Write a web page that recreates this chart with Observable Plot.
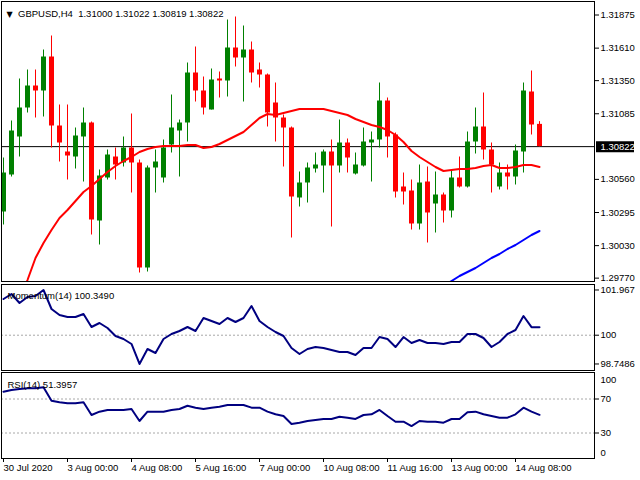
<!DOCTYPE html>
<html><head><meta charset="utf-8">
<script src="https://cdn.jsdelivr.net/npm/d3@7"></script>
<script src="https://cdn.jsdelivr.net/npm/@observablehq/plot@0.6"></script>
<style>
body{margin:0;background:#fff;}
#chart{position:relative;width:640px;height:480px;background:#fff;overflow:hidden;}
#chart svg{position:absolute;left:0;}
</style></head><body><div id="chart"></div>
<script>
// ---- data (GBPUSD H4) ----
const open = [1.30299,1.30595,1.30899,1.31131,1.31307,1.31267,1.31539,1.30987,1.30779,1.30739,
1.30899,1.31011,1.30227,1.30571,1.30739,1.30691,1.30811,1.30691,1.29851,1.30651,
1.30571,1.30835,1.30947,1.31011,1.31411,1.31267,1.31115,1.31363,1.31347,1.31611,
1.31531,1.31595,1.31435,1.31395,1.31171,1.31051,1.30971,1.30411,1.30531,1.30643,
1.30667,1.30779,1.30667,1.30851,1.30603,1.30667,1.30851,1.30875,1.31187,1.30915,
1.30499,1.30467,1.30203,1.30539,1.30363,1.30435,1.30307,1.30571,1.30499,1.30859,
1.30979,1.30795,1.30499,1.30611,1.30579,1.30779,1.31259,1.31000];
const high = [1.30731,1.31027,1.31363,1.31435,1.31435,1.31595,1.31707,1.31155,1.31155,1.30971,
1.31131,1.31019,1.30635,1.30795,1.30811,1.30899,1.31083,1.30715,1.30667,1.30795,
1.30875,1.31235,1.31035,1.31491,1.31619,1.31379,1.31443,1.31419,1.31835,1.31859,
1.31787,1.31659,1.31491,1.31403,1.31331,1.31075,1.30979,1.30619,1.30691,1.30771,
1.30795,1.30875,1.31035,1.30883,1.30771,1.30971,1.30939,1.31331,1.31211,1.30931,
1.30611,1.30555,1.30675,1.30659,1.30619,1.30451,1.30635,1.30739,1.30939,1.31131,
1.31251,1.30851,1.30691,1.30675,1.30835,1.31331,1.31427,1.31022];
const low = [1.30195,1.30579,1.30739,1.31091,1.31051,1.31059,1.30811,1.30699,1.30555,1.30643,
1.30539,1.30115,1.30035,1.30555,1.30555,1.30659,1.30451,1.29811,1.29819,1.30451,
1.30531,1.30771,1.30579,1.30859,1.31179,1.31075,1.31115,1.31211,1.31219,1.31459,
1.31179,1.31331,1.31291,1.30979,1.30859,1.30659,1.30091,1.30339,1.30371,1.30611,
1.30451,1.30179,1.30611,1.30611,1.30595,1.30659,1.30539,1.30811,1.30731,1.30411,
1.30355,1.30155,1.30155,1.30051,1.30131,1.30211,1.30251,1.30491,1.30491,1.30763,
1.30715,1.30451,1.30475,1.30475,1.30515,1.30611,1.30915,1.30819];
const close = [1.30611,1.30947,1.31131,1.31307,1.31267,1.31539,1.30987,1.30851,1.30747,1.30907,
1.31011,1.30235,1.30587,1.30755,1.30675,1.30811,1.30691,1.29851,1.30651,1.30699,
1.30811,1.30971,1.31011,1.31411,1.31267,1.31131,1.31355,1.31347,1.31611,1.31531,
1.31595,1.31411,1.31395,1.31091,1.31051,1.30971,1.30419,1.30531,1.30651,1.30675,
1.30779,1.30667,1.30851,1.30731,1.30675,1.30859,1.30875,1.31187,1.30899,1.30459,
1.30459,1.30203,1.30531,1.30291,1.30435,1.30307,1.30571,1.30499,1.30859,1.30979,
1.30795,1.30675,1.30611,1.30579,1.30787,1.31267,1.30995,1.30822];
const maFastStart = 2;
const maFast = [1.29595,1.29755,1.29931,1.30051,1.30155,1.30251,1.30315,1.30387,
1.30459,1.30507,1.30563,1.30619,1.30667,1.30707,1.30739,1.30779,1.30803,1.30819,
1.30827,1.30827,1.30827,1.30835,1.30835,1.30811,1.30819,1.30843,1.30875,1.30907,
1.30939,1.30995,1.31051,1.31083,1.31075,1.31091,1.31107,1.31123,1.31123,1.31123,
1.31123,1.31107,1.31091,1.31075,1.31043,1.31019,1.30995,1.30979,1.30955,1.30915,
1.30859,1.30787,1.30739,1.30699,1.30659,1.30627,1.30635,1.30643,1.30643,1.30651,
1.30667,1.30675,1.30651,1.30651,1.30659,1.30675,1.30675,1.30659];
const maSlowStart = 55;
const maSlow = [1.29707,1.29747,1.29787,1.29819,1.29851,1.29891,1.29931,1.29963,1.30003,1.30035,1.30075,1.30115,1.30147];
const momentum = [101.575,101.793,101.401,101.662,101.706,101.967,101.140,100.879,100.792,100.792,
100.923,100.357,100.531,100.314,99.966,99.835,99.618,98.749,99.400,99.226,
99.835,100.053,100.183,100.357,100.183,100.749,100.618,100.488,100.749,100.575,
100.749,101.271,100.618,100.357,100.140,99.966,99.444,99.183,99.400,99.487,
99.444,99.357,99.270,99.270,99.139,99.444,99.444,99.922,99.835,99.487,
99.922,99.661,99.792,99.661,99.661,99.618,99.705,99.705,100.053,100.053,
99.879,99.487,99.705,100.053,100.227,100.836,100.349,100.349];
const rsi = [78.6,80.6,81.8,82.6,82.6,83.8,68.0,66.1,64.9,64.9,
66.1,51.2,55.1,57.1,57.1,57.1,58.2,44.1,55.1,55.1,
55.1,57.1,58.2,62.1,59.8,58.2,59.8,60.9,62.9,62.9,
62.9,59.8,59.8,55.1,52.0,50.0,40.6,42.1,44.1,45.3,
46.5,46.5,49.2,48.0,46.5,51.2,52.0,57.1,50.0,43.3,
43.3,38.2,44.1,43.3,43.3,42.1,46.5,46.5,54.4,55.1,
52.0,50.0,48.0,48.0,52.0,59.8,55.1,51.3957];
const priceTicks = [1.31875,1.31610,1.31350,1.31085,1.30560,1.30295,1.30030,1.29770];
const momTicks = [101.967,100,98.7486];
const rsiTicks = [70,30];
const timeTickIdx = [0,8,16,24,32,40,48,56,64];
const timeLabels = ["30 Jul 2020","3 Aug 00:00","4 Aug 08:00","5 Aug 16:00","7 Aug 00:00","10 Aug 08:00","11 Aug 16:00","13 Aug 00:00","14 Aug 08:00"];
const symbolTitle = "GBPUSD,H4  1.31000 1.31022 1.30819 1.30822";
const momTitle = "Momentum(14) 100.3490";
const rsiTitle = "RSI(14) 51.3957";

// ---- build ----
const bars = open.map((o,i)=>({i, open:o, high:high[i], low:low[i], close:close[i]}));
const bulls = bars.filter(d=>d.close>=d.open);
const bears = bars.filter(d=>d.close<d.open);
const fastData = maFast.map((v,k)=>({i:k+maFastStart, v}));
const slowData = maSlow.map((v,k)=>({i:k+maSlowStart, v}));
const momData = momentum.map((v,i)=>({i, v}));
const rsiData = rsi.map((v,i)=>({i, v}));
const lastClose = close[close.length-1];
const xDom = [-0.25, 73.875];
const GREEN = "#008000", RED = "#ff0000", NAVY = "#000080", BLUE = "#0000ff";
const font = {fontFamily:"'Liberation Sans', Arial, sans-serif", fontSize:"9.5px", background:"transparent", color:"black"};
const dash = {stroke:"#a8a8a8", strokeDasharray:"2,2"};
const common = {width:640, marginLeft:1, marginRight:46, style:font};

const main = Plot.plot({...common, height:283, marginTop:1, marginBottom:2,
  x:{domain:xDom, axis:null, label:null}, y:{domain:[1.29743,1.31983], label:null},
  marks:[
    Plot.ruleY([lastClose], {stroke:"black"}),
    Plot.ruleX(bulls, {x:"i", y1:"low", y2:"high", stroke:GREEN}),
    Plot.ruleX(bulls, {x:"i", y1:"open", y2:"close", stroke:GREEN, strokeWidth:5}),
    Plot.ruleX(bears, {x:"i", y1:"low", y2:"high", stroke:RED}),
    Plot.ruleX(bears, {x:"i", y1:"open", y2:"close", stroke:RED, strokeWidth:5}),
    Plot.line(fastData, {x:"i", y:"v", stroke:RED, strokeWidth:2, clip:true}),
    Plot.line(slowData, {x:"i", y:"v", stroke:BLUE, strokeWidth:2, clip:true}),
    Plot.frame({stroke:"black"}),
    Plot.axisY({anchor:"right", label:null, ticks:priceTicks, tickFormat:d3.format(".5f"), tickSize:4, tickPadding:2}),
    Plot.ruleY([lastClose], {x1:xDom[1]+0.25, x2:xDom[1]+5, stroke:"black", strokeWidth:11}),
    Plot.text([lastClose], {y:d=>d, frameAnchor:"right", dx:6, text:d=>d3.format(".5f")(d), fill:"white", textAnchor:"start"}),
    Plot.text(["▼"], {frameAnchor:"top-left", dx:8, dy:9.5, text:d=>d, fontSize:8, fontFamily:"DejaVu Sans", textAnchor:"middle"}),
    Plot.text([symbolTitle], {frameAnchor:"top-left", dx:16.5, dy:9, text:d=>d, textAnchor:"start"})
  ]});

const mom = Plot.plot({...common, height:89, marginTop:1, marginBottom:2,
  x:{domain:xDom, axis:null, label:null}, y:{domain:[98.465,102.206], label:null},
  marks:[
    Plot.ruleY([100], dash),
    Plot.line(momData, {x:"i", y:"v", stroke:NAVY, strokeWidth:2}),
    Plot.frame({stroke:"black"}),
    Plot.axisY({anchor:"right", label:null, ticks:momTicks, tickFormat:d=>String(d), tickSize:4, tickPadding:2}),
    Plot.text([momTitle], {frameAnchor:"top-left", dx:6, dy:7.5, text:d=>d, textAnchor:"start"})
  ]});

const rsiPlot = Plot.plot({...common, height:108, marginTop:0, marginBottom:22,
  x:{domain:xDom, label:null}, y:{domain:[0,101.18], label:null},
  marks:[
    Plot.ruleY([70,30], dash),
    Plot.line(rsiData, {x:"i", y:"v", stroke:NAVY, strokeWidth:2}),
    Plot.frame({stroke:"black"}),
    Plot.axisY({anchor:"right", label:null, ticks:rsiTicks, tickFormat:d=>String(d), tickSize:4, tickPadding:2}),
    Plot.text([100], {y:d=>d, frameAnchor:"right", dx:6, dy:6, text:d=>String(d), textAnchor:"start"}),
    Plot.text([0], {y:d=>d, frameAnchor:"right", dx:6, dy:-6, text:d=>String(d), textAnchor:"start"}),
    Plot.axisX({anchor:"bottom", label:null, ticks:timeTickIdx, tickFormat:d=>timeLabels[timeTickIdx.indexOf(d)], tickSize:4, tickPadding:2, textAnchor:"start"}),
    Plot.text([rsiTitle], {frameAnchor:"top-left", dx:6, dy:9, text:d=>d, textAnchor:"start"})
  ]});

const host = document.getElementById("chart");
[[main,0],[mom,283],[rsiPlot,372]].forEach(([svg,top])=>{
  svg.style.position = "absolute";
  svg.style.top = top + "px";
  svg.style.left = "0px";
  host.appendChild(svg);
});
</script></body></html>
